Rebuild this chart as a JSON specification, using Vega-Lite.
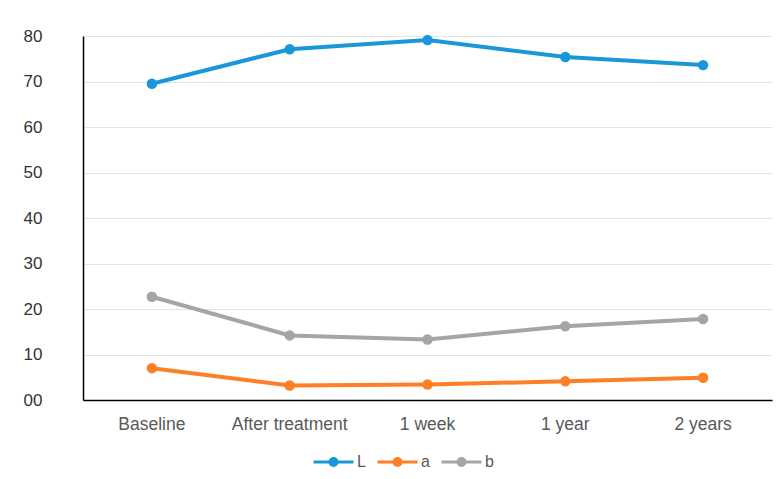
{
  "$schema": "https://vega.github.io/schema/vega-lite/v6.json",
  "width": 689,
  "height": 364,
  "autosize": {"type": "none"},
  "padding": {"left": 83, "top": 36, "right": 10, "bottom": 79},
  "background": "white",
  "config": {
    "view": {"stroke": null},
    "font": "Liberation Sans"
  },
  "data": {
    "values": [
      {"time": "Baseline", "series": "L", "value": 69.5},
      {"time": "After treatment", "series": "L", "value": 77.1},
      {"time": "1 week", "series": "L", "value": 79.1},
      {"time": "1 year", "series": "L", "value": 75.4},
      {"time": "2 years", "series": "L", "value": 73.6},
      {"time": "Baseline", "series": "a", "value": 7.0},
      {"time": "After treatment", "series": "a", "value": 3.2},
      {"time": "1 week", "series": "a", "value": 3.4},
      {"time": "1 year", "series": "a", "value": 4.1},
      {"time": "2 years", "series": "a", "value": 4.9},
      {"time": "Baseline", "series": "b", "value": 22.7},
      {"time": "After treatment", "series": "b", "value": 14.2},
      {"time": "1 week", "series": "b", "value": 13.3},
      {"time": "1 year", "series": "b", "value": 16.2},
      {"time": "2 years", "series": "b", "value": 17.8}
    ]
  },
  "encoding": {
    "x": {
      "field": "time",
      "type": "nominal",
      "sort": ["Baseline", "After treatment", "1 week", "1 year", "2 years"],
      "scale": {"type": "band", "paddingInner": 0, "paddingOuter": 0},
      "axis": {
        "title": null,
        "labelAngle": 0,
        "ticks": false,
        "labelPadding": 15,
        "labelFontSize": 17.5,
        "labelColor": "#595959",
        "domainColor": "#000000",
        "domainWidth": 1.5,
        "grid": false
      }
    },
    "y": {
      "field": "value",
      "type": "quantitative",
      "scale": {"domain": [0, 80], "nice": false},
      "axis": {
        "title": null,
        "values": [0, 10, 20, 30, 40, 50, 60, 70, 80],
        "labelExpr": "datum.value == 0 ? '00' : datum.label",
        "ticks": false,
        "labelPadding": 41,
        "labelFontSize": 17,
        "labelColor": "#333333",
        "domainColor": "#000000",
        "domainWidth": 1.5,
        "gridColor": "#E3E3E3",
        "gridWidth": 1
      }
    },
    "color": {
      "field": "series",
      "type": "nominal",
      "scale": {"domain": ["L", "a", "b"], "range": ["#1A97D8", "#FF7F27", "#A5A5A5"]},
      "legend": {
        "title": null,
        "orient": "none",
        "direction": "horizontal",
        "legendX": 229,
        "legendY": 414,
        "symbolType": "M-1,0H3M1.35,0A0.35,0.35,0,1,1,0.65,0A0.35,0.35,0,1,1,1.35,0Z",
        "symbolSize": 400,
        "symbolStrokeWidth": 3,
        "labelOffset": 22,
        "labelFontSize": 16,
        "labelColor": "#595959",
        "columnPadding": 5
      }
    }
  },
  "layer": [
    {"mark": {"type": "line", "strokeWidth": 4}},
    {"mark": {"type": "circle", "size": 110, "opacity": 1}}
  ]
}
